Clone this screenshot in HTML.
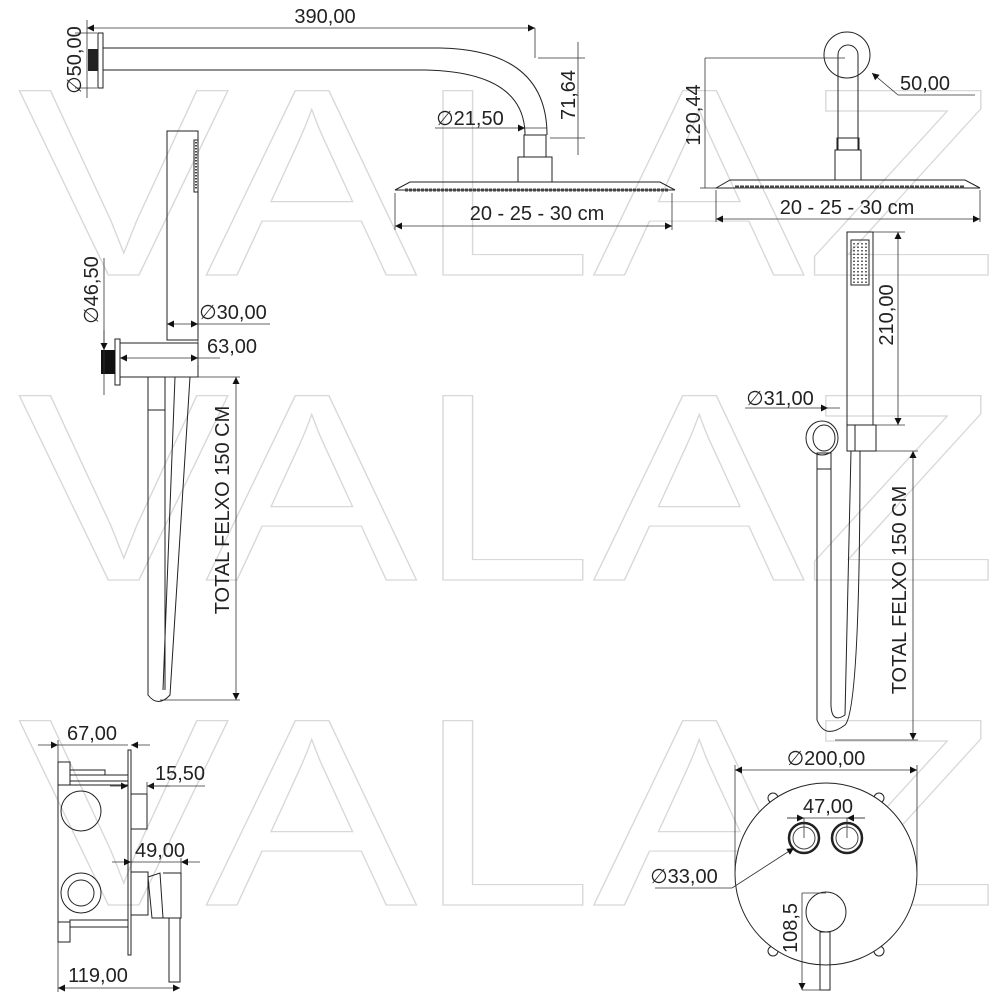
<!DOCTYPE html>
<html><head><meta charset="utf-8"><style>
html,body{margin:0;padding:0;background:#fff}
svg{display:block}
text{font-family:"Liberation Sans",sans-serif}
.l{fill:none;stroke:#222;stroke-width:1}
.d{fill:none;stroke:#333;stroke-width:0.8}
.t{font-size:20px;fill:#222}
.w{font-size:268px;fill:none;stroke:#d8d8d8;stroke-width:1.2}
</style></head><body>
<svg width="1000" height="1000" viewBox="0 0 1000 1000" xmlns="http://www.w3.org/2000/svg">
<defs>
<marker id="a" viewBox="0 0 10 10" refX="10" refY="5" markerWidth="9" markerHeight="7" orient="auto-start-reverse" markerUnits="userSpaceOnUse"><path d="M0,0 L10,5 L0,10z" fill="#111"/></marker>
</defs>
<text class="w" x="18" y="275" textLength="980" lengthAdjust="spacingAndGlyphs">VALAZ</text>
<text class="w" x="18" y="580" textLength="980" lengthAdjust="spacingAndGlyphs">VALAZ</text>
<text class="w" x="18" y="905" textLength="980" lengthAdjust="spacingAndGlyphs">VALAZ</text>

<!-- top left arm -->
<rect class="l" x="98" y="33" width="5" height="55"/>
<rect x="88" y="49" width="10" height="22" fill="#222"/>
<path class="l" d="M103,48 H440 Q547,50 547,135"/>
<path class="l" d="M103,70 H425 Q525,72 525,135"/>
<rect class="l" x="524" y="135" width="22" height="22"/>
<rect class="l" x="518" y="157" width="34" height="25"/>
<path class="l" d="M395,190 L410,182 H660 L675,190 Z"/>
<path d="M405,190 H668" stroke="#444" stroke-width="3" stroke-dasharray="3,1"/>
<line class="d" x1="87" y1="28" x2="535" y2="28" marker-start="url(#a)" marker-end="url(#a)"/>
<line class="d" x1="87" y1="20" x2="87" y2="98"/>
<line class="d" x1="535" y1="28" x2="535" y2="58"/>
<text class="t" x="325" y="23" text-anchor="middle">390,00</text>
<line class="d" x1="75" y1="33" x2="97" y2="33"/><line class="d" x1="75" y1="88" x2="97" y2="88"/>
<text class="t" transform="translate(81,60) rotate(-90)" text-anchor="middle">∅50,00</text>
<line class="d" x1="538" y1="58" x2="585" y2="58"/><line class="d" x1="550" y1="138" x2="585" y2="138"/>
<line class="d" x1="578" y1="42" x2="578" y2="155"/>
<text class="t" transform="translate(575,95) rotate(-90)" text-anchor="middle">71,64</text>
<line class="d" x1="435" y1="128" x2="547" y2="128"/>
<line class="d" x1="520" y1="128" x2="525" y2="128" marker-end="url(#a)"/>
<text class="t" x="470" y="125" text-anchor="middle">∅21,50</text>
<line class="d" x1="395" y1="193" x2="395" y2="230"/><line class="d" x1="672" y1="193" x2="672" y2="230"/>
<line class="d" x1="395" y1="226" x2="672" y2="226" marker-start="url(#a)" marker-end="url(#a)"/>
<text class="t" x="537" y="220" text-anchor="middle">20 - 25 - 30 cm</text>

<!-- top right -->
<circle class="l" cx="847" cy="55" r="23"/>
<path class="l" d="M838,150 V55 A10,10 0 0 1 858,55 V150"/>
<rect class="l" x="837" y="138" width="22" height="12"/>
<rect class="l" x="835" y="150" width="26" height="30"/>
<path class="l" d="M716,188 L730,180 H965 L980,188 Z"/>
<path d="M735,187 H965" stroke="#444" stroke-width="3" stroke-dasharray="4,1"/>
<line class="d" x1="705" y1="58" x2="845" y2="58"/>
<line class="d" x1="705" y1="58" x2="705" y2="188"/>
<line class="d" x1="700" y1="188" x2="716" y2="188"/>
<text class="t" transform="translate(700,115) rotate(-90)" text-anchor="middle">120,44</text>
<line class="d" x1="975" y1="95" x2="898" y2="95"/><line class="d" x1="898" y1="95" x2="872" y2="73" marker-end="url(#a)"/>
<text class="t" x="925" y="90" text-anchor="middle">50,00</text>
<line class="d" x1="716" y1="190" x2="716" y2="222"/><line class="d" x1="980" y1="190" x2="980" y2="222"/>
<line class="d" x1="716" y1="219" x2="980" y2="219" marker-start="url(#a)" marker-end="url(#a)"/>
<text class="t" x="847" y="214" text-anchor="middle">20 - 25 - 30 cm</text>

<!-- left hand shower -->
<rect class="l" x="167" y="131" width="31" height="209"/>
<rect class="l" x="194" y="140" width="4" height="52"/>
<path d="M196,142 V190" stroke="#444" stroke-width="2" stroke-dasharray="1.5,1.5"/>
<rect class="l" x="115" y="339" width="5" height="46"/>
<rect x="101" y="350" width="14" height="24" fill="#111"/>
<rect class="l" x="120" y="343" width="78" height="34"/>
<rect class="l" x="148" y="377" width="17" height="33"/>
<path class="l" d="M148,410 V695 Q158,708 170,695 L190,377"/>
<path class="l" d="M165,410 V690"/>
<path class="l" d="M175,377 L163,690"/>
<line class="d" x1="104" y1="258" x2="104" y2="395"/>
<line class="d" x1="104" y1="330" x2="104" y2="350" marker-end="url(#a)"/>
<text class="t" transform="translate(98,290) rotate(-90)" text-anchor="middle">∅46,50</text>
<line class="d" x1="167" y1="324" x2="198" y2="324" marker-start="url(#a)" marker-end="url(#a)"/>
<line class="d" x1="198" y1="324" x2="270" y2="324"/>
<text class="t" x="233" y="319" text-anchor="middle">∅30,00</text>
<line class="d" x1="120" y1="358" x2="198" y2="358" marker-start="url(#a)" marker-end="url(#a)"/>
<line class="d" x1="198" y1="358" x2="220" y2="358"/>
<line class="d" x1="198" y1="337" x2="198" y2="365"/>
<text class="t" x="232" y="353" text-anchor="middle">63,00</text>
<line class="d" x1="165" y1="377" x2="240" y2="377"/><line class="d" x1="160" y1="700" x2="240" y2="700"/>
<line class="d" x1="236" y1="377" x2="236" y2="700" marker-start="url(#a)" marker-end="url(#a)"/>
<text class="t" transform="translate(229,510) rotate(-90)" text-anchor="middle">TOTAL FELXO 150 CM</text>

<!-- right hand shower -->
<rect class="l" x="847" y="232" width="26" height="193"/>
<rect class="l" x="851" y="240" width="18" height="45"/>
<path d="M854,243 V283 M858,243 V283 M862,243 V283 M866,243 V283" stroke="#333" stroke-width="1.5" stroke-dasharray="1.5,2"/>
<line class="d" x1="873" y1="232" x2="905" y2="232"/><line class="d" x1="873" y1="425" x2="905" y2="425"/>
<line class="d" x1="898" y1="232" x2="898" y2="425" marker-start="url(#a)" marker-end="url(#a)"/>
<text class="t" transform="translate(893,315) rotate(-90)" text-anchor="middle">210,00</text>
<ellipse class="l" cx="822" cy="438" rx="16" ry="17"/>
<ellipse class="l" cx="824" cy="438" rx="11" ry="13"/>
<rect class="l" x="847" y="425" width="29" height="26"/>
<line class="l" x1="855" y1="425" x2="855" y2="451"/>
<rect class="l" x="817" y="453" width="14" height="16"/>
<path class="l" d="M817,469 V720 Q825,740 845,725 Q860,710 860,451"/>
<path class="l" d="M831,469 V700 Q830,725 845,715 L851,451"/>
<line class="d" x1="745" y1="408" x2="840" y2="408"/>
<line class="d" x1="820" y1="408" x2="828" y2="408" marker-end="url(#a)"/>
<text class="t" x="780" y="405" text-anchor="middle">∅31,00</text>
<line class="d" x1="876" y1="451" x2="918" y2="451"/><line class="d" x1="835" y1="740" x2="918" y2="740"/>
<line class="d" x1="913" y1="451" x2="913" y2="740" marker-start="url(#a)" marker-end="url(#a)"/>
<text class="t" transform="translate(906,590) rotate(-90)" text-anchor="middle">TOTAL FELXO 150 CM</text>

<!-- bottom left valve -->
<rect class="l" x="128" y="750" width="3" height="205"/>
<rect class="l" x="58" y="762" width="12" height="23"/>
<rect class="l" x="70" y="775" width="58" height="6"/>
<rect class="l" x="70" y="770" width="35" height="5"/>
<path class="l" d="M58,785 V922 M58,785 H128"/>
<rect class="l" x="58" y="922" width="12" height="20"/>
<rect class="l" x="70" y="920" width="58" height="7"/>
<circle class="l" cx="81" cy="811" r="20"/>
<circle class="l" cx="81" cy="893" r="20"/>
<circle class="l" cx="81" cy="893" r="13"/>
<rect class="l" x="131" y="794" width="16" height="35"/>
<rect class="l" x="131" y="872" width="17" height="43"/>
<path class="l" d="M148,877 L160,873 L163,918 L152,918 Z"/>
<path class="l" d="M163,873 H181 V918 H163"/>
<rect class="l" x="169" y="918" width="11" height="64"/>
<line class="d" x1="58" y1="740" x2="58" y2="762"/>
<line class="d" x1="38" y1="745" x2="58" y2="745" marker-end="url(#a)"/>
<line class="d" x1="58" y1="745" x2="128" y2="745"/>
<line class="d" x1="150" y1="745" x2="131" y2="745" marker-end="url(#a)"/>
<text class="t" x="92" y="740" text-anchor="middle">67,00</text>
<line class="d" x1="110" y1="786" x2="128" y2="786" marker-end="url(#a)"/>
<line class="d" x1="170" y1="786" x2="147" y2="786" marker-end="url(#a)"/>
<line class="d" x1="147" y1="786" x2="205" y2="786"/>
<line class="d" x1="147" y1="782" x2="147" y2="794"/>
<text class="t" x="180" y="780" text-anchor="middle">15,50</text>
<line class="d" x1="112" y1="862" x2="131" y2="862" marker-end="url(#a)"/>
<line class="d" x1="131" y1="862" x2="181" y2="862"/>
<line class="d" x1="200" y1="862" x2="181" y2="862" marker-end="url(#a)"/>
<line class="d" x1="181" y1="858" x2="181" y2="873"/>
<text class="t" x="160" y="857" text-anchor="middle">49,00</text>
<line class="d" x1="58" y1="942" x2="58" y2="992"/>
<line class="d" x1="58" y1="988" x2="180" y2="988" marker-start="url(#a)" marker-end="url(#a)"/>
<text class="t" x="98" y="982" text-anchor="middle">119,00</text>

<!-- bottom right plate -->
<circle class="l" cx="773" cy="798" r="5"/><circle class="l" cx="879" cy="798" r="5"/>
<circle class="l" cx="773" cy="951" r="5"/><circle class="l" cx="879" cy="951" r="5"/>
<circle cx="826" cy="874" r="91" fill="#fff" stroke="#222" stroke-width="1"/>
<circle cx="804" cy="838" r="15" fill="none" stroke="#222" stroke-width="2.5"/>
<circle cx="804" cy="838" r="11" fill="none" stroke="#444" stroke-width="1"/>
<circle cx="847" cy="838" r="15" fill="none" stroke="#222" stroke-width="2.5"/>
<circle cx="847" cy="838" r="11" fill="none" stroke="#444" stroke-width="1"/>
<circle class="l" cx="826" cy="912" r="20"/>
<rect class="l" x="820" y="932" width="10" height="58"/>
<line class="d" x1="735" y1="770" x2="917" y2="770" marker-start="url(#a)" marker-end="url(#a)"/>
<line class="d" x1="735" y1="765" x2="735" y2="874"/><line class="d" x1="917" y1="765" x2="917" y2="874"/>
<text class="t" x="826" y="765" text-anchor="middle">∅200,00</text>
<line class="d" x1="787" y1="818" x2="865" y2="818"/>
<line class="d" x1="787" y1="818" x2="804" y2="818" marker-end="url(#a)"/>
<line class="d" x1="865" y1="818" x2="847" y2="818" marker-end="url(#a)"/>
<line class="d" x1="804" y1="818" x2="804" y2="838"/><line class="d" x1="847" y1="818" x2="847" y2="838"/>
<text class="t" x="828" y="813" text-anchor="middle">47,00</text>
<line class="d" x1="655" y1="888" x2="732" y2="888"/>
<line class="d" x1="732" y1="888" x2="794" y2="848" marker-end="url(#a)"/>
<text class="t" x="684" y="883" text-anchor="middle">∅33,00</text>
<line class="d" x1="802" y1="893" x2="826" y2="893"/><line class="d" x1="802" y1="990" x2="826" y2="990"/>
<line class="d" x1="802" y1="893" x2="802" y2="990" marker-end="url(#a)"/>
<text class="t" transform="translate(797,928) rotate(-90)" text-anchor="middle">108,5</text>
</svg>
</body></html>
